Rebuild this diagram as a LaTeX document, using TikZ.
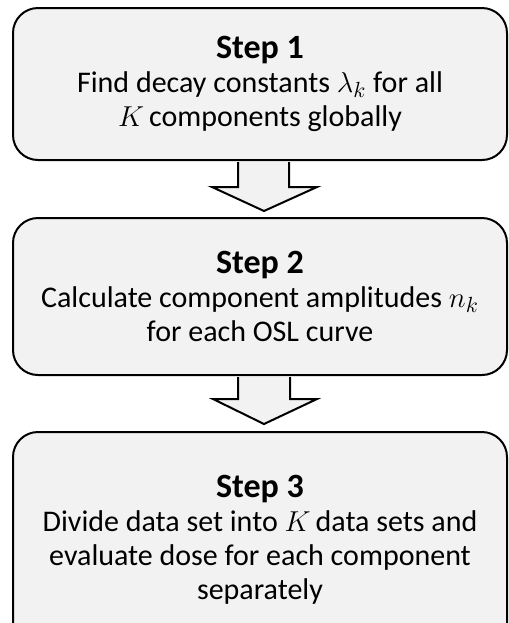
\documentclass[tikz,border=0pt]{standalone}
\usepackage{fontspec}
\setmainfont{Carlito}
\usepackage{amsmath}
\usetikzlibrary{calc}
\definecolor{boxgray}{HTML}{F2F2F2}
\newcommand{\steptitle}[1]{{\fontsize{17}{17}\selectfont\textbf{#1}}}

\begin{document}
\begin{tikzpicture}[x=0.5pt, y=-0.5pt,
                    round/.style={rounded corners=12.5pt, draw, line width=1pt,
                                  fill=boxgray, minimum width=247pt, align=center,
                                  font=\fontsize{15}{17}\selectfont},
                    fat/.style={draw, line width=1pt, fill=boxgray, line join=miter}]
    \useasboundingbox (0,0) rectangle (509,623);

    % steps
    \node[round, minimum height=76pt] (step1) at (260,84)
        {\steptitle{Step 1}\\ Find decay constants $\lambda_k$ for all\\ $K$\,components globally};
    \node[round, minimum height=78.5pt] (step2) at (260,296.5)
        {\steptitle{Step 2}\\ Calculate component amplitudes $n_k$\\ for each OSL curve};
    \node[round, minimum height=108pt] (step3) at (260,540)
        {\steptitle{Step 3}\\ Divide data set into $K$\,data sets and\\ evaluate dose for each component\\ separately};

    % step 1 -> step 2
    \draw[fat] ($(step1.south)+(-22,1)$) -- ($(step1.south)+(-22,26)$)
        -- ($(step1.south)+(-48,26)$) -- ($(step2.north)+(4,-6)$)
        -- ($(step1.south)+(57,26)$) -- ($(step1.south)+(29,26)$)
        -- ($(step1.south)+(29,1)$);
    % step 2 -> step 3
    \draw[fat] ($(step2.south)+(-22,1)$) -- ($(step2.south)+(-22,23)$)
        -- ($(step2.south)+(-47,23)$) -- ($(step3.north)+(4,-7)$)
        -- ($(step2.south)+(57,23)$) -- ($(step2.south)+(30,23)$)
        -- ($(step2.south)+(30,1)$);
\end{tikzpicture}
\end{document}
